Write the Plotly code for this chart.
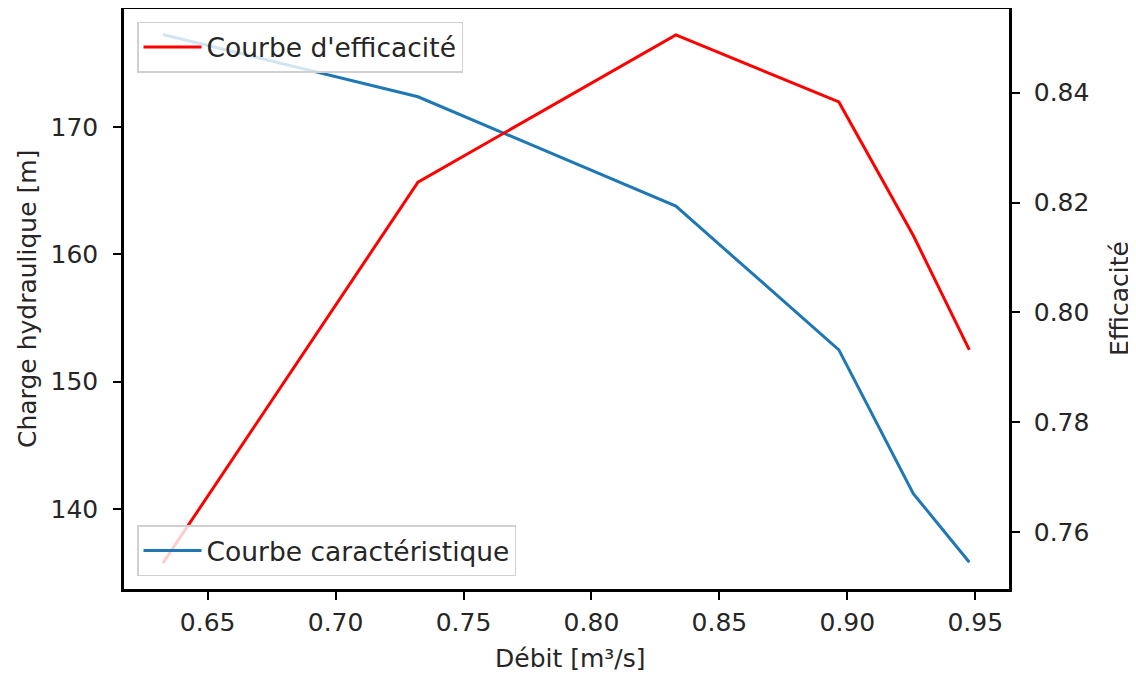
import plotly.graph_objects as go

# Data
debit = [0.6325, 0.7322, 0.8330, 0.8967, 0.9258, 0.9477]
charge = [177.3, 172.4, 163.8, 152.5, 141.2, 135.8]
efficacite = [0.7544, 0.8237, 0.8505, 0.8383, 0.8140, 0.7932]

x_ticks = [0.65, 0.70, 0.75, 0.80, 0.85, 0.90, 0.95]
y_ticks = [140, 150, 160, 170]
y2_ticks = [0.76, 0.78, 0.80, 0.82, 0.84]

FONT = "DejaVu Sans"
TXT = "#262626"
FS = 25
FS_LEG = 26.5

fig = go.Figure()
fig.add_trace(go.Scatter(
    x=debit, y=charge, mode="lines", name="Courbe caractéristique",
    line=dict(color="#1f77b4", width=3), legend="legend2", yaxis="y",
    showlegend=True))
fig.add_trace(go.Scatter(
    x=debit, y=efficacite, mode="lines", name="Courbe d'efficacité",
    line=dict(color="#ff0000", width=3), legend="legend", yaxis="y2",
    showlegend=True))

axis_common = dict(
    showline=True, linecolor="black", linewidth=2.5, ticks="outside",
    ticklen=8, tickwidth=2, tickcolor="black", showgrid=False, zeroline=False,
    automargin=False,
    tickfont=dict(family=FONT, size=FS, color=TXT),
)

# the page body adds an 8px offset, compensated in the margins
L, R, T, B = 116, 135, 1, 96

fig.update_layout(
    width=1136, height=677,
    margin=dict(l=L, r=R, t=T, b=B, autoexpand=False),
    plot_bgcolor="white", paper_bgcolor="white",
    showlegend=True,
    font=dict(family=FONT, size=FS, color=TXT),
    xaxis=dict(**axis_common, range=[0.6173, 0.9632], tickvals=x_ticks,
               tickformat=".2f", mirror=True, ticklabelstandoff=1),
    yaxis=dict(**axis_common, range=[133.7, 179.3], tickvals=y_ticks, mirror=True,
               ticklabelstandoff=10),
    yaxis2=dict(**axis_common, range=[0.7497, 0.8552], tickvals=y2_ticks,
                tickformat=".2f", overlaying="y", side="right",
                ticklabelstandoff=9),
    legend=dict(x=0.0147, y=0.978, xanchor="left", yanchor="top",
                bgcolor="rgba(255,255,255,0.8)", bordercolor="#d0d0d0", borderwidth=1.5,
                itemwidth=58,
                font=dict(family=FONT, size=FS_LEG, color=TXT), visible=True),
    legend2=dict(x=0.0147, y=0.022, xanchor="left", yanchor="bottom",
                 bgcolor="rgba(255,255,255,0.8)", bordercolor="#d0d0d0", borderwidth=1.5,
                 itemwidth=58,
                 font=dict(family=FONT, size=FS_LEG, color=TXT), visible=True),
    annotations=[
        dict(text="Débit [m³/s]", xref="paper", yref="paper", x=0.5, y=0,
             xanchor="center", yanchor="middle", yshift=-69, xshift=4, showarrow=False,
             font=dict(family=FONT, size=FS, color=TXT)),
        dict(text="Charge hydraulique [m]", xref="paper", yref="paper", x=0, y=0.5,
             xanchor="center", yanchor="middle", xshift=-97, textangle=-90, showarrow=False,
             font=dict(family=FONT, size=FS, color=TXT)),
        dict(text="Efficacité", xref="paper", yref="paper", x=1, y=0.5,
             xanchor="center", yanchor="middle", xshift=110, textangle=-90, showarrow=False,
             font=dict(family=FONT, size=FS, color=TXT)),
    ],
)

fig.write_html("out.html")
